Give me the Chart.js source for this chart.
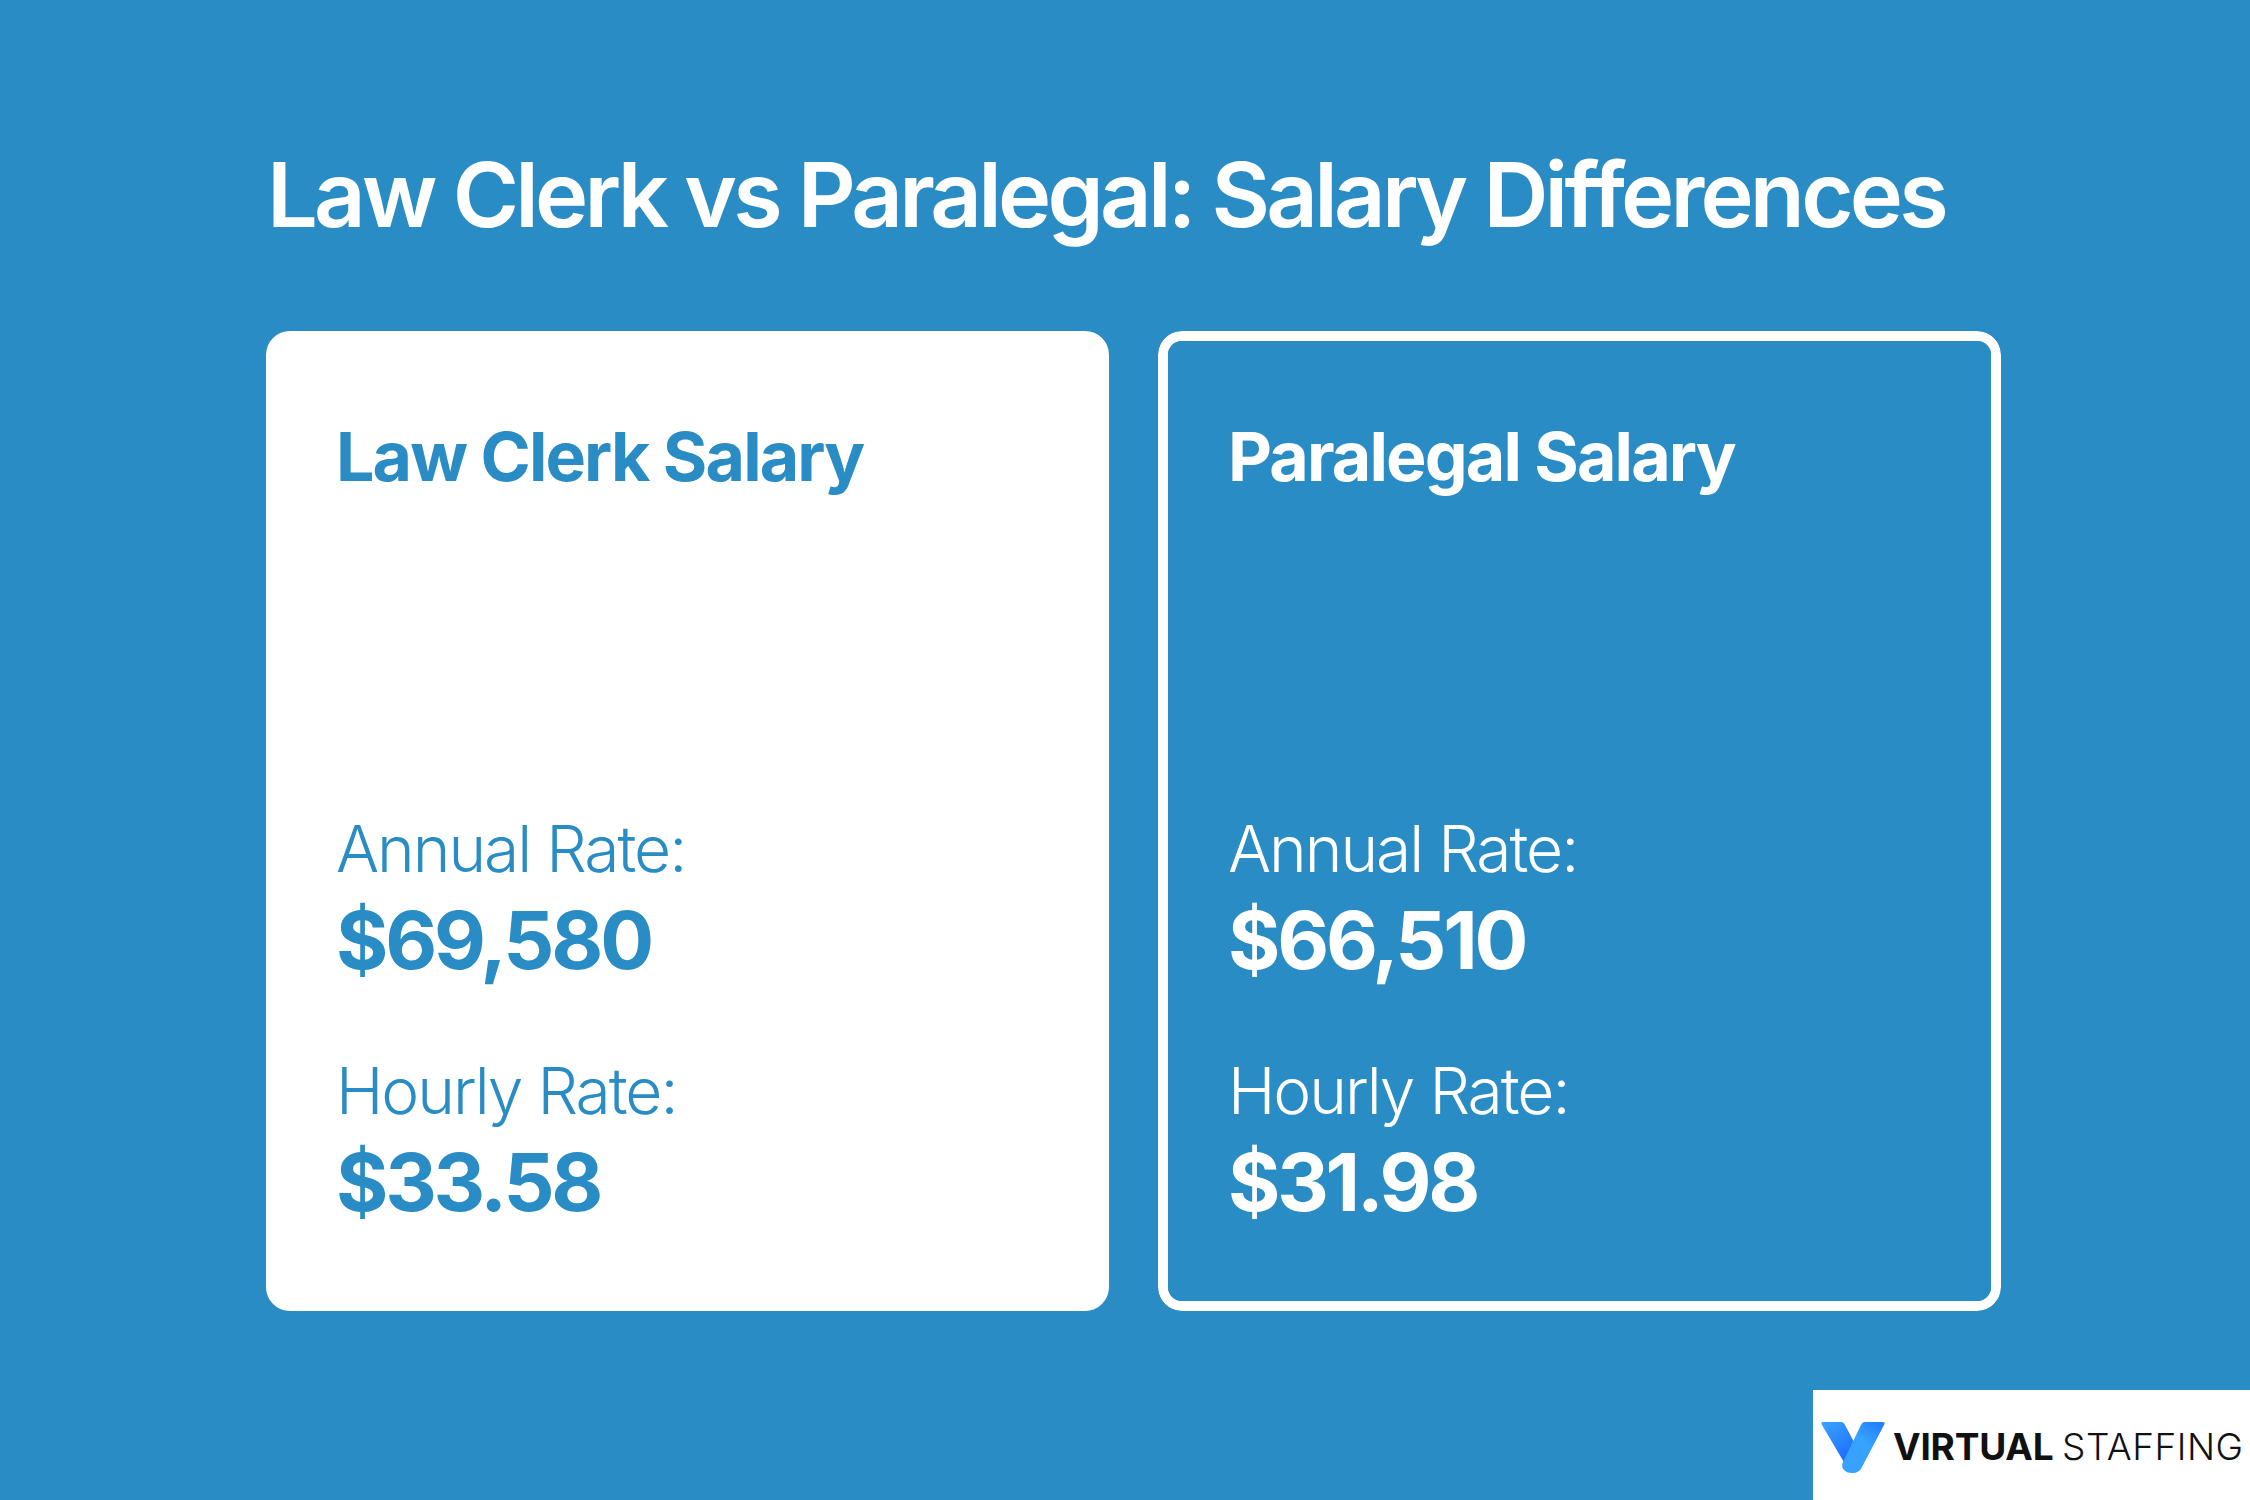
<!DOCTYPE html>
<html>
<head>
<meta charset="utf-8">
<title>Law Clerk vs Paralegal: Salary Differences</title>
<script src="https://cdn.jsdelivr.net/npm/chart.js@4"></script>
<style>
    html, body { margin: 0; padding: 0; background: #298cc4; width: 2250px; height: 1500px; overflow: hidden; }
    #salary-chart { position: absolute; left: 0; top: 0; }
    #logo { position: absolute; left: 1813px; top: 1390px; width: 437px; height: 110px; background: #fff; }
    #logo svg { position: absolute; left: 8px; top: 32px; }
    #logo span { position: absolute; top: 33px; font-family: Inter, sans-serif; font-size: 37px; line-height: 47px; color: #111; white-space: nowrap; }
    #logo .bold { left: 80px; font-weight: 700; letter-spacing: -0.2px; }
    #logo .thin { left: 249px; font-weight: 300; letter-spacing: 0.5px; }
</style>
</head>
<body>
<canvas id="salary-chart" width="2250" height="1500"></canvas>
<div id="logo">
    <svg width="64" height="52" viewBox="0 0 64 52">
        <defs>
            <linearGradient id="armLeft" x1="0" y1="0" x2="0.5" y2="1">
                <stop offset="0" stop-color="#3ba4ff"/>
                <stop offset="1" stop-color="#1d6eff"/>
            </linearGradient>
            <linearGradient id="armRight" x1="0.8" y1="0" x2="0.3" y2="0.8">
                <stop offset="0" stop-color="#2380ff"/>
                <stop offset="0.5" stop-color="#37a2ff"/>
                <stop offset="1" stop-color="#37a2ff"/>
            </linearGradient>
        </defs>
        <path d="M2 0H20C22 0 23 1 24 3L33 20L24 42L1 3C0 1 0 0 2 0Z" fill="url(#armLeft)"/>
        <path d="M62 0H44C42 0 41 1 40 3L22 40C19 46 24 51 31 51C36 51 39 49 41 45L63 3C64 1 64 0 62 0Z" fill="url(#armRight)"/>
    </svg>
    <span class="bold">VIRTUAL</span><span class="thin">STAFFING</span>
</div>
<script>
const chartTitle = 'Law Clerk vs Paralegal: Salary Differences';
const categories = ['Law Clerk Salary', 'Paralegal Salary'];
const annualRates = [69580, 66510];
const hourlyRates = [33.58, 31.98];
const annualLabel = 'Annual Rate:';
const hourlyLabel = 'Hourly Rate:';

const blue = '#298cc4';
const white = '#ffffff';

function drawText(ctx, text, x, y, font, color, spacing) {
    ctx.font = font;
    ctx.fillStyle = color;
    ctx.letterSpacing = spacing;
    ctx.textAlign = 'left';
    ctx.textBaseline = 'alphabetic';
    ctx.fillText(text, x, y);
}

// the card text hangs off each bar, so it follows the scales
const cardText = {
    id: 'cardText',
    afterDatasetsDraw(chart) {
        const ctx = chart.ctx;
        ctx.save();
        drawText(ctx, chartTitle, 267, 227, '600 90px Inter', white, '-3.77px');
        chart.getDatasetMeta(0).data.forEach((bar, i) => {
            const color = i === 0 ? blue : white;
            const x = bar.x - bar.width / 2 + 70;
            const top = bar.y;
            drawText(ctx, categories[i], x, top + 150, '700 68px Inter', color, '-1.85px');
            drawText(ctx, annualLabel, x, top + 541, '300 64px Inter', color, '-2px');
            drawText(ctx, '$' + annualRates[i].toLocaleString('en-US'), x, top + 638, '700 80px Inter', color, '-3.2px');
            drawText(ctx, hourlyLabel, x, top + 783, '300 64px Inter', color, '-2px');
            drawText(ctx, '$' + hourlyRates[i].toFixed(2), x, top + 880, '700 80px Inter', color, '-3.2px');
        });
        ctx.restore();
    }
};

document.fonts.load('600 90px Inter').finally(function() {
    new Chart(document.getElementById('salary-chart').getContext('2d'), {
        type: 'bar',
        data: {
            labels: categories,
            datasets: [{
                data: categories.map(() => 1),
                backgroundColor: [white, blue],
                borderColor: white,
                borderWidth: [0, 10],
                borderRadius: 24,
                borderSkipped: false,
                categoryPercentage: 1,
                barPercentage: 0.9451
            }]
        },
        options: {
            responsive: false,
            animation: false,
            layout: { padding: { left: 241.5, right: 224.5, top: 331, bottom: 189 } },
            plugins: { legend: { display: false }, tooltip: { enabled: false } },
            scales: {
                x: { display: false },
                y: { display: false, min: 0, max: 1 }
            }
        },
        plugins: [cardText]
    });
});
</script>
</body>
</html>
